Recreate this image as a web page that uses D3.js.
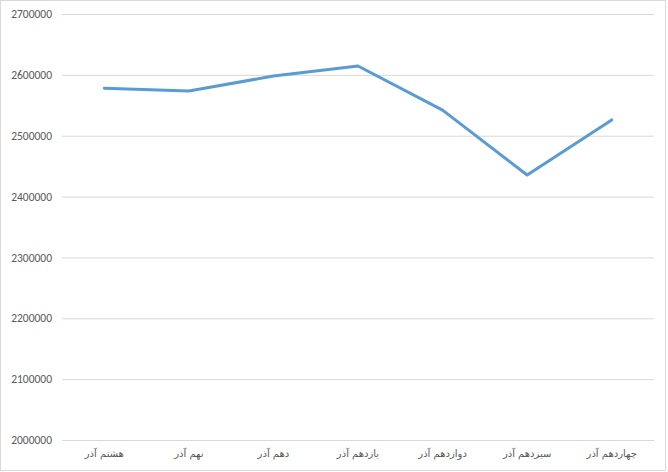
<!DOCTYPE html>
<html><head><meta charset="utf-8">
<script src="https://cdn.jsdelivr.net/npm/d3@7/dist/d3.min.js"></script>
<style>body{margin:0;background:#fff}svg{display:block}</style>
</head><body>
<script>
const categories = ["هشتم آذر","نهم آذر","دهم آذر","یازدهم آذر","دوازدهم آذر","سیزدهم آذر","چهاردهم آذر"];
const values = [2578000, 2573500, 2598000, 2614500, 2542000, 2435500, 2526000];
const yTicks = [2000000,2100000,2200000,2300000,2400000,2500000,2600000,2700000];

const W=668,H=472;
const svg=d3.select("body").append("svg").attr("width",W).attr("height",H);
svg.append("rect").attr("x",0.5).attr("y",0.5).attr("width",W-3).attr("height",H-2)
  .attr("fill","#fff").attr("stroke","#d9d9d9");
const x=d3.scaleBand().domain(categories).range([62,654]);
const y=d3.scaleLinear().domain([2000000,2700000]).range([440,14]);

const yAxis=svg.append("g").attr("transform","translate(62,0)")
  .call(d3.axisLeft(y).tickValues(yTicks).tickSize(-592).tickPadding(10).tickFormat(d3.format("d")));
yAxis.select(".domain").remove();
yAxis.selectAll("line").attr("stroke","#d9d9d9");
yAxis.selectAll("text").attr("fill","#595959").style("font-family","Carlito, 'Open Sans', sans-serif").style("font-size","11.5px");

const xAxis=svg.append("g").attr("transform","translate(0,440)")
  .call(d3.axisBottom(x).tickSize(0).tickPadding(10));
xAxis.select(".domain").attr("stroke","#d9d9d9");
xAxis.selectAll("text").attr("fill","#595959").style("font-family","'DejaVu Sans', sans-serif").style("font-size","10px");

const line=d3.line().x((d,i)=>x(categories[i])+x.bandwidth()/2).y(d=>y(d));
svg.append("path").datum(values).attr("d",line).attr("fill","none")
  .attr("stroke","#5b9bd5").attr("stroke-width",3).attr("stroke-linejoin","round").attr("stroke-linecap","round");
</script>
</body></html>
